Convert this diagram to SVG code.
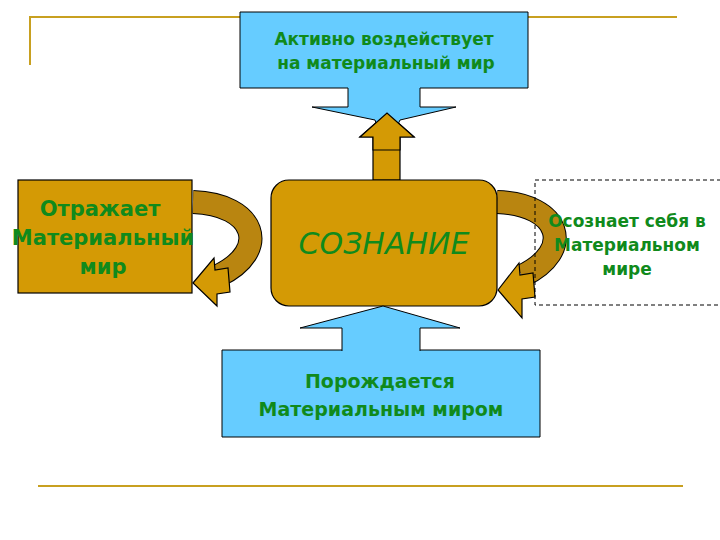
<svg xmlns="http://www.w3.org/2000/svg" width="720" height="540" viewBox="0 0 720 540">
<style>
.g{fill:#d49a05;stroke:#000;stroke-width:1.2}
.b{fill:#66ccff;stroke:#000;stroke-width:1}
.t{font-family:"DejaVu Sans",sans-serif;font-weight:bold;fill:#108a1c;text-anchor:middle}
.ln{stroke:#c8a020;stroke-width:2;fill:none}
</style>
<rect width="720" height="540" fill="#fff"/>
<g id="decor">
<path class="ln" d="M30,65 V17 H240 M528,17 H677"/>
<path class="ln" d="M38,486 H683"/>
</g>
<g id="connectors">
<path d="M193,202 C255,204 272,250 218,276" fill="none" stroke="#000" stroke-width="24"/>
<path d="M193,202 C255,204 272,250 218,276" fill="none" stroke="#b98510" stroke-width="22"/>
<polygon class="g" points="193,283 214,258 215,270 228,268 230,292 217,294 217,306"/>
<path d="M497,202 C560,204 576,250 522,276" fill="none" stroke="#000" stroke-width="24"/>
<path d="M497,202 C560,204 576,250 522,276" fill="none" stroke="#b98510" stroke-width="22"/>
<polygon class="g" points="498,290 519,263 520,275 533,273 535,297 522,299 522,318"/>
<polygon class="g" points="373,180 373,137 360,137 387,113 414,137 400,137 400,180"/>
</g>
<g id="top">
<path class="b" d="M240,12 H528 V88 H420 V107 H456 L400,120 L386,150 L375,120 L312,107 H348 V88 H240 Z"/>
<polygon class="g" points="373,150 373,137 360,137 387,113 414,137 400,137 400,150"/>
<text class="t" x="384" y="45" font-size="17">Активно воздействует</text>
<text class="t" x="386" y="69" font-size="17">на материальный мир</text>
</g>
<g id="left">
<rect class="g" x="18" y="180" width="174" height="113"/>
<text class="t" x="100" y="216" font-size="21">Отражает</text>
<text class="t" x="103" y="245" font-size="21">Материальный</text>
<text class="t" x="103" y="274" font-size="21">мир</text>
</g>
<g id="center">
<rect class="g" x="271" y="180" width="226" height="126" rx="18"/>
<text x="384" y="254" font-family="DejaVu Sans,sans-serif" font-size="30" fill="#108a1c" text-anchor="middle" font-style="italic">СОЗНАНИЕ</text>
</g>
<g id="right">
<rect x="535" y="180" width="190" height="125" fill="none" stroke="#000" stroke-dasharray="4,3"/>
<text class="t" x="627" y="227" font-size="17">Осознает себя в</text>
<text class="t" x="627" y="251" font-size="17">Материальном</text>
<text class="t" x="627" y="275" font-size="17">мире</text>
</g>
<g id="bottom">
<path class="b" d="M222,350 H540 V437 H222 Z"/>
<path class="b" d="M342,351 V328 H300 L383,306 L460,328 H420 V351"/>
<rect x="343" y="349" width="76" height="4" fill="#66ccff"/>
<text class="t" x="380" y="388" font-size="19">Порождается</text>
<text class="t" x="381" y="416" font-size="19">Материальным миром</text>
</g>
</svg>
